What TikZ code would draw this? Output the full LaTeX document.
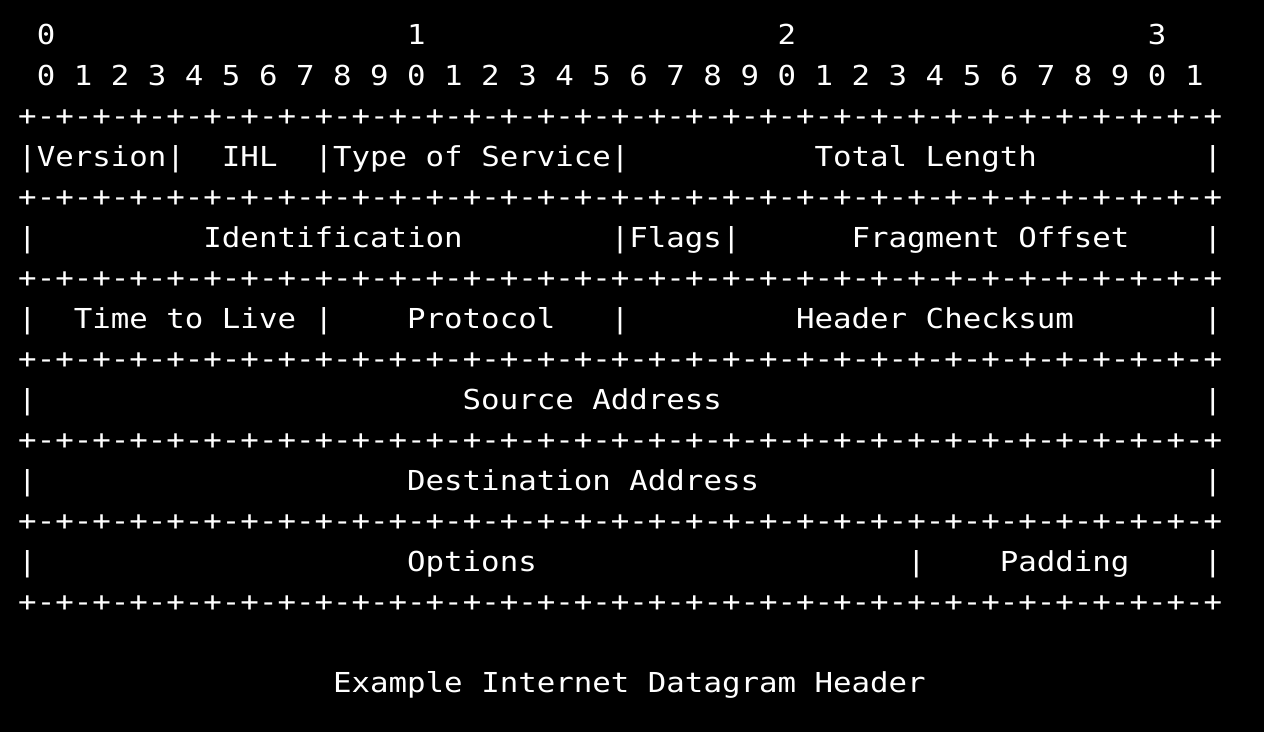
\documentclass[tikz,border=0pt]{standalone}
\usepackage{fontspec}
\newfontfamily\hdrfont[FakeStretch=1.12,Ligatures=NoCommon]{DejaVu Sans Mono}
\usepackage{tikz}

\newcommand{\borderoct}{+-+-+-+-+-+-+-+-}
\newcommand{\hdrborder}{\borderoct\borderoct\borderoct\borderoct+}

\begin{document}
\begin{tikzpicture}[x=18.52pt,y=-40.5pt]
\tikzset{
    %Define style for the characters (one column = one x unit, one line = one y unit)
    chars/.style={
           anchor=base west,
           inner sep=0pt,
           outer sep=0pt,
           text=white,
           font=\hdrfont\fontsize{27.47pt}{30pt}\selectfont},
}
	\path[use as bounding box,fill=black] (-0.985,-1.111) rectangle (67.266,16.963);

 %bit numbers
	\foreach \t/\c in {0/1,1/21,2/41,3/61}
		\node[chars] (tens\t) at (\c,0) {\t};
	\foreach \i in {0,...,31}{
		\pgfmathtruncatemacro{\d}{mod(\i,10)}
		\node[chars] (bit\i) at ({1+2*\i},1) {\d};
	}

 %borders
	\foreach \k in {2,4,6,8,10,12,14}
		\node[chars] (border\k) at (0,\k) {\hdrborder};

 %separators
	\foreach \k/\c in {3/0,3/8,3/16,3/32,3/64,
	                   5/0,5/32,5/38,5/64,
	                   7/0,7/16,7/32,7/64,
	                   9/0,9/64,
	                   11/0,11/64,
	                   13/0,13/48,13/64}
		\node[chars] (sep-\k-\c) at (\c,\k) {|};

 %fields
	\node[chars] (version) at (1,3) {Version};
	\node[chars] (ihl) at (11,3) {IHL};
	\node[chars] (tos) at (17,3) {Type of Service};
	\node[chars] (totlen) at (43,3) {Total Length};

	\node[chars] (ident) at (10,5) {Identification};
	\node[chars] (flags) at (33,5) {Flags};
	\node[chars] (fragoff) at (45,5) {Fragment Offset};

	\node[chars] (ttl) at (3,7) {Time to Live};
	\node[chars] (proto) at (21,7) {Protocol};
	\node[chars] (hdrsum) at (42,7) {Header Checksum};

	\node[chars] (srcaddr) at (24,9) {Source Address};
	\node[chars] (dstaddr) at (21,11) {Destination Address};

	\node[chars] (options) at (21,13) {Options};
	\node[chars] (padding) at (53,13) {Padding};

	\node[chars] (caption) at (17,16) {Example Internet Datagram Header};

\end{tikzpicture}
\end{document}
